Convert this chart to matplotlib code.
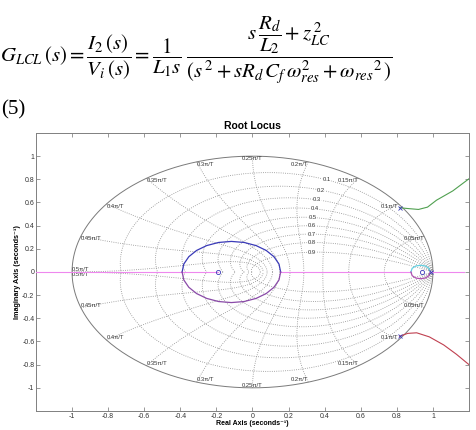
import numpy as np
import matplotlib
matplotlib.use("Agg")
import matplotlib.pyplot as plt

plt.rcParams['mathtext.fontset'] = 'stix'
plt.rcParams['font.family'] = ['Liberation Sans', 'DejaVu Sans']

# ---- data ----
zeta_values = [0.1, 0.2, 0.3, 0.4, 0.5, 0.6, 0.7, 0.8, 0.9]
zeta_labels = ['0.1', '0.2', '0.3', '0.4', '0.5', '0.6', '0.7', '0.8', '0.9']
wn_fracs = [0.1, 0.2, 0.3, 0.4, 0.5, 0.6, 0.7, 0.8, 0.9, 1.0]   # wn*T / pi
wn_labels = ['0.05π/T', '0.1π/T', '0.15π/T', '0.2π/T', '0.25π/T',
             '0.3π/T', '0.35π/T', '0.4π/T', '0.45π/T', '0.5π/T']

xticks = [-1, -0.8, -0.6, -0.4, -0.2, 0, 0.2, 0.4, 0.6, 0.8, 1]
yticks = [-1, -0.8, -0.6, -0.4, -0.2, 0, 0.2, 0.4, 0.6, 0.8, 1]

# root locus branches
real_axis_segments = [(-1.2, -0.39), (-0.39, -0.19), (0.156, 0.878), (0.99, 1.17)]
loop_upper_x = [0.156, 0.147, 0.119, 0.076, 0.020, -0.046, -0.117, -0.188, -0.254, -0.310, -0.353, -0.381, -0.390]
loop_upper_y = [0.000, 0.068, 0.132, 0.186, 0.228, 0.255, 0.264, 0.255, 0.228, 0.186, 0.132, 0.068, 0.000]
small_loop_x = [0.878, 0.885, 0.905, 0.932, 0.958, 0.978, 0.985]
small_loop_y = [0.000, 0.032, 0.052, 0.058, 0.052, 0.032, 0.000]
green_x = [0.815, 0.86, 0.92, 0.97, 1.02, 1.11, 1.20]
green_y = [0.555, 0.548, 0.540, 0.560, 0.620, 0.700, 0.805]
red_x = [0.815, 0.86, 0.91, 0.98, 1.06, 1.13, 1.20]
red_y = [-0.555, -0.530, -0.525, -0.560, -0.630, -0.710, -0.800]
poles_x = [0.815, 0.815, 0.99]
poles_y = [0.555, -0.555, 0.0]
zeros_x = [-0.19, 0.94]
zeros_y = [0.0, 0.0]

fig = plt.figure(figsize=(4.76, 4.30), dpi=100)

# ---- equation ----
eq = (r"$G_{LCL}\,(s) = \dfrac{I_2\,(s)}{V_i\,(s)} = \dfrac{1}{L_1 s}\;"
      r"\dfrac{s\,\dfrac{R_d}{L_2} + z_{LC}^{\,2}}"
      r"{(s^{\,2} + sR_d\,C_f\,\omega_{res}^{2} + \omega_{res}{}^{2}\,)}$")
fig.text(0.0, 0.884, eq, fontsize=15, va='center', ha='left', color='black')
fig.text(0.002, 0.745, "(5)", fontsize=15, va='center', ha='left',
         family='Liberation Serif')

ax = fig.add_axes([0.0756, 0.0442, 0.9097, 0.6465])

gc = '#8c8c8c'
# unit circle
th = np.linspace(0, 2 * np.pi, 400)
ax.plot(np.cos(th), np.sin(th), color='#7a7a7a', lw=0.7, zorder=2)

# constant damping curves
t = np.linspace(0, np.pi, 200)
for z in zeta_values:
    m = z / np.sqrt(1 - z ** 2)
    zz = np.exp(t * (-m + 1j))
    ax.plot(zz.real, zz.imag, ls=':', color=gc, lw=0.6, zorder=1)
    ax.plot(zz.real, -zz.imag, ls=':', color=gc, lw=0.6, zorder=1)

# constant natural frequency curves
phi = np.linspace(np.pi / 2, np.pi, 200)
for w in wn_fracs:
    zz = np.exp(w * np.pi * np.exp(1j * phi))
    ax.plot(zz.real, zz.imag, ls=':', color=gc, lw=0.6, zorder=1)
    ax.plot(zz.real, -zz.imag, ls=':', color=gc, lw=0.6, zorder=1)

# zeta labels
for z, lab in zip(zeta_values, zeta_labels):
    wT = 0.35 * np.pi
    p = np.exp(wT * (-z + 1j * np.sqrt(1 - z ** 2)))
    ax.text(p.real, p.imag, lab, fontsize=4.2, color='#333333', ha='center', va='center',
            bbox=dict(facecolor='white', edgecolor='none', pad=0.3, alpha=0.8), zorder=3)

# natural frequency labels
for w, lab in zip(wn_fracs, wn_labels):
    a = w * np.pi
    x, y = np.cos(a), np.sin(a)
    ha = 'center' if abs(x) < 0.05 else ('right' if x > 0 else 'left')
    ax.text(x, y, lab, fontsize=4.2, color='#333333', ha=ha, va='top', zorder=3)
    ax.text(x, -y, lab, fontsize=4.2, color='#333333', ha=ha, va='bottom', zorder=3)

# locus
pink = '#ee88ee'
for a, b in real_axis_segments:
    ax.plot([a, b], [0, 0], color=pink, lw=0.8, zorder=4)
ax.plot(loop_upper_x, loop_upper_y, color='#3a3ab8', lw=0.9, zorder=4)
ax.plot(loop_upper_x, [-v for v in loop_upper_y], color='#8a4aa8', lw=0.9, zorder=4)
ax.plot(small_loop_x, small_loop_y, color='#66d0e0', lw=0.9, zorder=4)
ax.plot(small_loop_x, [-v for v in small_loop_y], color='#b050b0', lw=0.9, zorder=4)
ax.plot(green_x, green_y, color='#50a050', lw=0.8, zorder=4)
ax.plot(red_x, red_y, color='#c04050', lw=0.8, zorder=4)
ax.plot(poles_x, poles_y, 'x', color='#3a3ab8', ms=3, mew=0.6, zorder=5)
ax.plot(zeros_x, zeros_y, 'o', color='#3a3ab8', mfc='none', ms=3, mew=0.6, zorder=5)

ax.set_xlim(-1.2, 1.2)
ax.set_ylim(-1.2, 1.2)
ax.set_xticks(xticks)
ax.set_yticks(yticks)
ax.set_xticklabels([('%g' % v) for v in xticks])
ax.set_yticklabels([('%g' % v) for v in yticks])
ax.tick_params(direction='in', length=3, width=0.5, colors='#707070', labelsize=5,
               labelcolor='#333333', pad=1.2, top=True, right=True)
for s in ax.spines.values():
    s.set_color('#808080')
    s.set_linewidth(0.7)

ax.set_title('Root Locus', fontsize=7.5, fontweight='bold', pad=3)
ax.set_xlabel('Real Axis (seconds⁻¹)', fontsize=5, fontweight='bold', labelpad=0.3,
              family=['Liberation Sans', 'DejaVu Sans'])
ax.set_ylabel('Imaginary Axis (seconds⁻¹)', fontsize=5.2, fontweight='bold', labelpad=1,
              family=['Liberation Sans', 'DejaVu Sans'])

fig.savefig('out.png', dpi=100, facecolor='white')
